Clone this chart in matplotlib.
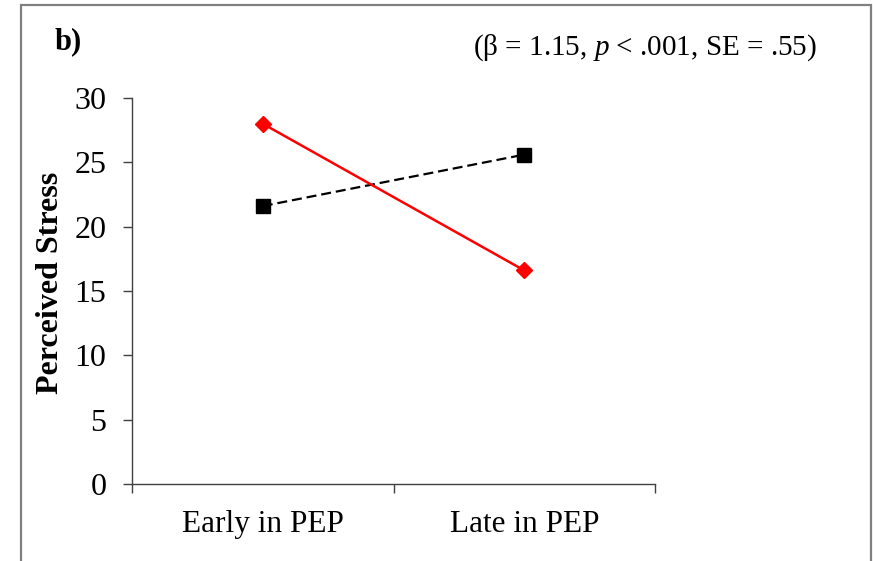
import matplotlib
matplotlib.use("Agg")
import matplotlib.pyplot as plt
from matplotlib.patches import Rectangle
from matplotlib.ticker import FixedLocator, NullFormatter, FixedFormatter

categories = ["Early in PEP", "Late in PEP"]
red_series = [28.0, 16.6]
black_series = [21.6, 25.6]
y_ticks = [0, 5, 10, 15, 20, 25, 30]

plt.rcParams['font.family'] = ['Liberation Serif', 'DejaVu Serif']
plt.rcParams['mathtext.fontset'] = 'custom'
plt.rcParams['mathtext.rm'] = 'Liberation Serif'
plt.rcParams['mathtext.it'] = 'Liberation Serif:italic'

W, H = 873, 561
fig = plt.figure(figsize=(W/100, H/100), dpi=100)

# outer frame
fig.patches.append(Rectangle((20.5/W, -0.05), (870.5-20.5)/W, (H-4.5)/H + 0.05,
                             transform=fig.transFigure, fill=False,
                             edgecolor='#808080', linewidth=1.6))

ax = fig.add_axes([132/W, 1-484/H, (655-132)/W, (484-98)/H])
x = [i + 0.5 for i in range(len(categories))]

ax.plot(x, black_series, color='black', linestyle=(0, (4.5, 2.2)), linewidth=1.6,
        marker='s', markersize=10, markeredgecolor='black', markerfacecolor='black', zorder=3)
ax.plot(x, red_series, color='#ff0000', linestyle='-', linewidth=1.8,
        marker='D', markersize=8, markeredgecolor='#ff0000', markerfacecolor='#ff0000', zorder=4)

ax.set_xlim(0, len(categories))
ax.set_ylim(0, 30)
ax.set_yticks(y_ticks)
ax.set_yticklabels([str(v) for v in y_ticks])
ax.xaxis.set_major_locator(FixedLocator([0, 1, 2]))
ax.xaxis.set_major_formatter(NullFormatter())
ax.xaxis.set_minor_locator(FixedLocator(x))
ax.xaxis.set_minor_formatter(FixedFormatter(categories))
ax.tick_params(axis='x', which='minor', length=0, labelsize=22.5, pad=19)
ax.tick_params(axis='x', which='major', length=6.5, direction='out', color='#404040', width=1)
ax.tick_params(axis='y', length=6.5, direction='out', color='#404040', width=1, labelsize=23, pad=12)

for s in ['top', 'right']:
    ax.spines[s].set_visible(False)
for s in ['left', 'bottom']:
    ax.spines[s].set_color('#404040')
    ax.spines[s].set_linewidth(1)

fig.text(50.5/W, 1-283/H, "Perceived Stress", rotation=90, ha='center', va='center',
         fontsize=23, fontweight='bold')
fig.text(68/W, 1-42/H, "b)", ha='center', va='center', fontsize=22, fontweight='bold')
fig.text(645/W, 1-48/H, r"($\mathrm{\beta}$ = 1.15, $\mathit{p}$ < .001, SE = .55)",
         ha='center', va='center', fontsize=21)

fig.savefig("out.png", dpi=100)
